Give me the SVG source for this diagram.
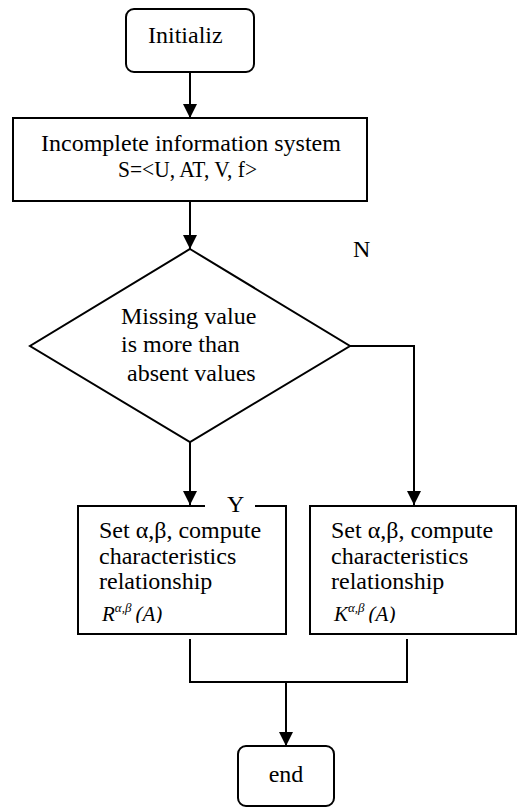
<svg xmlns="http://www.w3.org/2000/svg" width="517" height="807" viewBox="0 0 517 807">
<style>
.s{fill:none;stroke:#000;stroke-width:2}
.n{fill:#fff;stroke:#000;stroke-width:2}
text{font-family:'Liberation Serif','DejaVu Serif',serif;font-size:24px;fill:#000}
.f{font-style:italic;font-size:21px}
.sup{font-size:13px}
</style>
<defs>
<marker id="ah" markerUnits="userSpaceOnUse" markerWidth="14" markerHeight="14" refX="14" refY="7" orient="auto">
<path d="M0,0 L14,7 L0,14 z" fill="#000"/>
</marker>
<clipPath id="cl"><rect x="0" y="500" width="517" height="123"/></clipPath>
</defs>
<g id="connectors">
<line class="s" x1="190" y1="72" x2="190" y2="118" marker-end="url(#ah)"/>
<line class="s" x1="190" y1="201" x2="190" y2="249" marker-end="url(#ah)"/>
<line class="s" x1="190" y1="442" x2="190" y2="505" marker-end="url(#ah)"/>
<polyline class="s" points="350,346 414,346 414,505" marker-end="url(#ah)"/>
<polyline class="s" points="190,639 190,682 407,682 407,639"/>
<line class="s" x1="286" y1="682" x2="286" y2="746" marker-end="url(#ah)"/>
<text x="353" y="257">N</text>
<text x="227" y="512">Y</text>
</g>
<g id="start">
<rect class="n" x="126" y="9" width="128" height="63" rx="8"/>
<text x="148" y="43">Initializ</text>
</g>
<g id="system">
<rect class="n" x="13" y="118" width="354" height="83"/>
<text x="41" y="151">Incomplete information system</text>
<text x="118" y="177" font-size="19" textLength="139" lengthAdjust="spacingAndGlyphs">S=&lt;U, AT, V, f&gt;</text>
</g>
<g id="decision">
<polygon class="n" points="190,249 350,346 190,442 30,346"/>
<text x="121" y="324">Missing value</text>
<text x="121" y="352">is more than</text>
<text x="127" y="381">absent values</text>
</g>
<g id="left">
<path class="s" d="M205,506 H78 V634 H286 V506 H255"/>
<text x="99" y="538">Set α,β, compute</text>
<text x="99" y="564">characteristics</text>
<text x="99" y="589">relationship</text>
<text class="f" x="102" y="621" clip-path="url(#cl)">R<tspan class="sup" dy="-9">α,β</tspan><tspan dx="4" dy="9">(A)</tspan></text>
</g>
<g id="right">
<rect class="n" x="310" y="506" width="206" height="128"/>
<text x="331" y="538">Set α,β, compute</text>
<text x="331" y="564">characteristics</text>
<text x="331" y="589">relationship</text>
<text class="f" x="334" y="621" clip-path="url(#cl)">K<tspan class="sup" dy="-9">α,β</tspan><tspan dx="4" dy="9">(A)</tspan></text>
</g>
<g id="end">
<rect class="n" x="238" y="746" width="96" height="60" rx="8"/>
<text x="286" y="782" text-anchor="middle">end</text>
</g>
</svg>
